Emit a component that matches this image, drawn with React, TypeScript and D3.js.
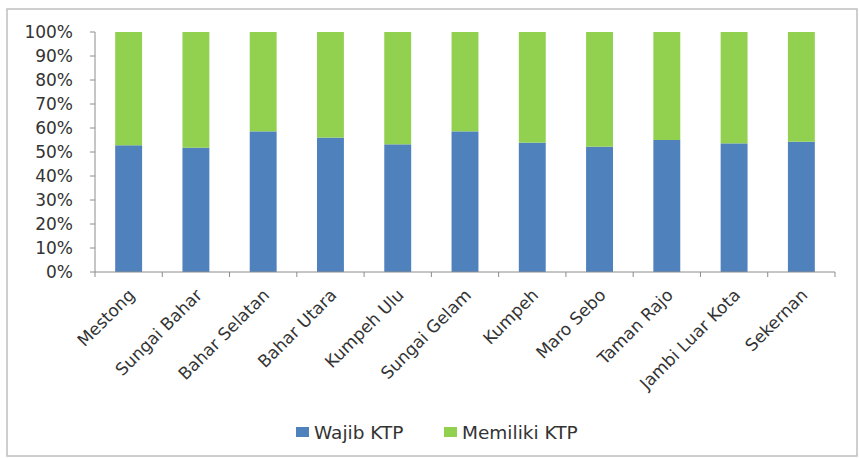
import React from "react";
import * as d3 from "d3";

const categories = [
  "Mestong",
  "Sungai Bahar",
  "Bahar Selatan",
  "Bahar Utara",
  "Kumpeh Ulu",
  "Sungai Gelam",
  "Kumpeh",
  "Maro Sebo",
  "Taman Rajo",
  "Jambi Luar Kota",
  "Sekernan",
];
const wajibKTP = [52.8, 51.8, 58.6, 56.0, 53.2, 58.6, 53.9, 52.2, 55.0, 53.6, 54.3];
const memilikiKTP = wajibKTP.map((v) => 100 - v);
const seriesNames = ["Wajib KTP", "Memiliki KTP"];
const seriesColors = ["#4f81bd", "#92d050"];
const yTicks = [0, 10, 20, 30, 40, 50, 60, 70, 80, 90, 100];

const W = 859;
const H = 458;
const plot = { left: 95, right: 835, top: 32, bottom: 272 };
const font = "'DejaVu Sans', sans-serif";
const textColor = "#333333";
const axisColor = "#8c8c8c";

export default function App() {
  const x = d3
    .scaleBand<string>()
    .domain(categories)
    .range([plot.left, plot.right])
    .paddingInner(0.6)
    .paddingOuter(0.3);
  const y = d3.scaleLinear().domain([0, 100]).range([plot.bottom, plot.top]);

  const rows = categories.map((c, i) => ({
    cat: c,
    wajib: wajibKTP[i],
    memiliki: memilikiKTP[i],
  }));
  const stack = d3.stack<any>().keys(["wajib", "memiliki"]);
  const layers = stack(rows);

  const step = (plot.right - plot.left) / categories.length;
  const boundaries = d3.range(categories.length + 1).map((i) => plot.left + i * step);

  const legendX = [296, 444];

  return (
    <svg
      width={W}
      height={H}
      style={{ position: "absolute", left: 0, top: 0, background: "#fff" }}
    >
      <rect x={7} y={9} width={850} height={447} fill="#fff" stroke="#bfbfbf" strokeWidth={1.5} />
      {/* y axis */}
      <line x1={plot.left} x2={plot.left} y1={plot.top} y2={plot.bottom} stroke={axisColor} />
      {yTicks.map((t) => (
        <g key={t}>
          <line x1={plot.left - 5} x2={plot.left} y1={y(t)} y2={y(t)} stroke={axisColor} />
          <text
            x={73}
            y={y(t)}
            dy="0.36em"
            textAnchor="end"
            fontFamily={font}
            fontSize={17}
            fill={textColor}
          >
            {t}%
          </text>
        </g>
      ))}
      {/* bars */}
      {layers.map((layer, li) => (
        <g key={li} fill={seriesColors[li]}>
          {layer.map((d, i) => (
            <rect
              key={i}
              x={x(categories[i])}
              width={x.bandwidth()}
              y={y(d[1])}
              height={y(d[0]) - y(d[1])}
            />
          ))}
        </g>
      ))}
      {/* x axis */}
      <line x1={plot.left} x2={plot.right} y1={plot.bottom} y2={plot.bottom} stroke={axisColor} />
      {boundaries.map((b, i) => (
        <line key={i} x1={b} x2={b} y1={plot.bottom} y2={plot.bottom + 5} stroke={axisColor} />
      ))}
      {categories.map((c) => {
        const cx = (x(c) as number) + x.bandwidth() / 2;
        return (
          <text
            key={c}
            transform={`translate(${cx + 3},${plot.bottom + 20}) rotate(-45)`}
            textAnchor="end"
            dy="0.35em"
            fontFamily={font}
            fontSize={17}
            fill={textColor}
          >
            {c}
          </text>
        );
      })}
      {/* legend */}
      {seriesNames.map((n, i) => {
        const lx = legendX[i];
        return (
          <g key={n}>
            <rect x={lx} y={427} width={13} height={10} fill={seriesColors[i]} />
            <text
              x={lx + 18}
              y={432.5}
              dy="0.36em"
              fontFamily={font}
              fontSize={18.5}
              fill={textColor}
            >
              {n}
            </text>
          </g>
        );
      })}
    </svg>
  );
}
